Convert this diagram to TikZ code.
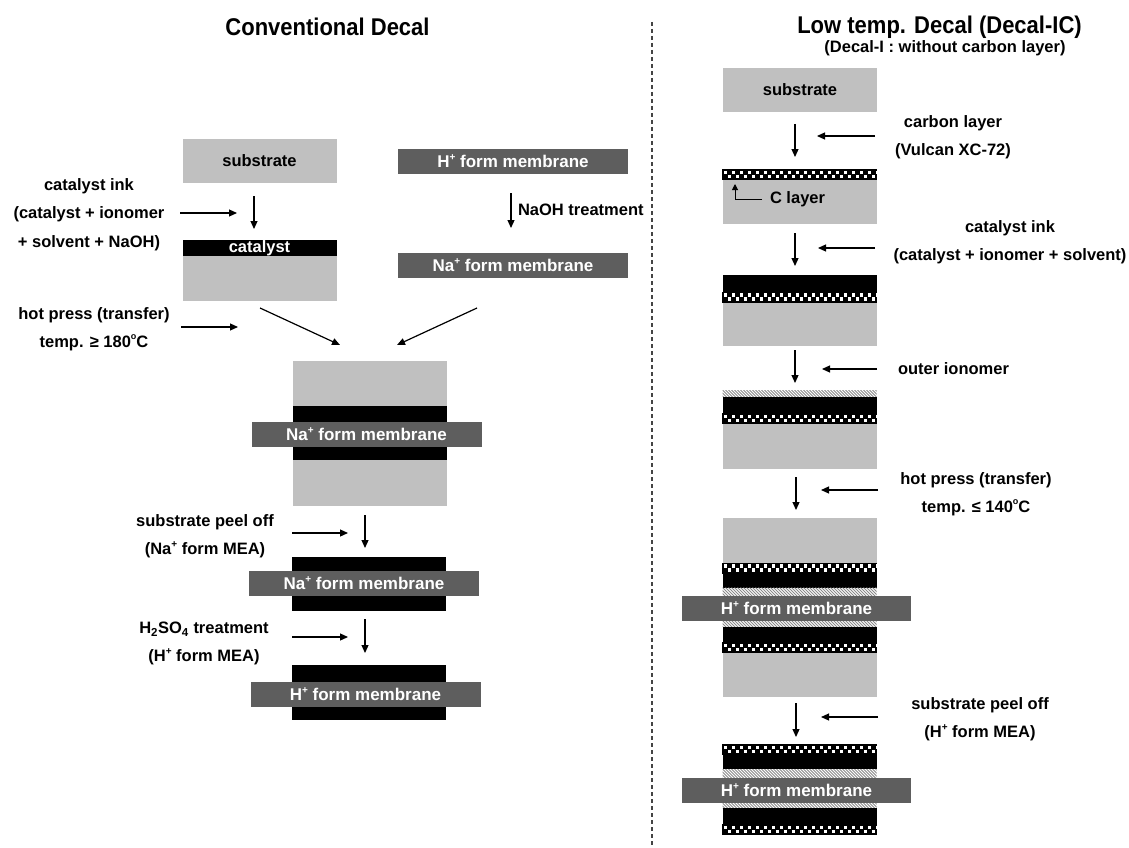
\documentclass[tikz,border=0pt]{standalone}
\usepackage{fontspec}
\setmainfont{Liberation Sans}
\usetikzlibrary{arrows.meta}
\definecolor{subgray}{HTML}{C0C0C0}
\definecolor{memgray}{HTML}{5E5E5E}
\definecolor{hatchgray}{HTML}{8A8A8A}
\definecolor{dashgray}{HTML}{444444}
\newcommand{\mysup}[1]{\raisebox{0.42em}{\fontsize{10}{10}\selectfont #1}}
\newcommand{\mydeg}{\raisebox{0.5em}{\fontsize{9}{9}\selectfont o}}
\begin{document}
\begin{tikzpicture}[x=1pt,y=-1pt,
  every node/.style={font=\bfseries\fontsize{16.5}{28}\selectfont, inner sep=0pt, outer sep=0pt},
  lbl/.style={align=center},
  ttl/.style={font=\bfseries\fontsize{22}{26}\selectfont},
  slab/.style={fill=subgray, minimum width=154, minimum height=#1},
  memb/.style={fill=memgray, text=white, minimum width=230, minimum height=25, font=\bfseries\fontsize{17}{20}\selectfont},
  blk/.style={fill=black, minimum width=154, minimum height=#1},
  chk/.style={fill=black, minimum width=155, minimum height=11, path picture={
     \foreach \i [evaluate=\i as \yy using {1.5+4*mod(\i,2)}] in {0,...,38}
       \fill[white] ([xshift=1.7pt+\i*4pt, yshift={-\yy*1pt}]path picture bounding box.north west) rectangle ++(3.4pt,-3.6pt);
  }},
  hat/.style={fill=white, minimum width=154, minimum height=#1, path picture={
     \foreach \i in {-5,...,56}
       \draw[hatchgray, line width=0.9pt] ([xshift=\i*3pt]path picture bounding box.north west) -- ++(12pt,-12pt);
  }},
  arr/.style={line width=1.2pt, -{Triangle[length=8pt,width=7pt]}},
  sarr/.style={line width=1pt, -{Triangle[length=6pt,width=6pt]}},
  dline/.style={dashgray, line width=1.2pt, dash pattern=on 4pt off 3pt},
]
\useasboundingbox (0,0) rectangle (1129,848);

% ---------------- titles ----------------
\node[ttl] (t1) at (327.5,27) {\scalebox{1}[1.1]{Conventional Decal}};
\node[ttl] (t2) at (939.5,27) {\scalebox{1}[1.1]{Low temp. Decal (Decal-IC)}};
\node (t3) at (945,48) {(Decal-I : without carbon layer)};

% ---------------- divider ----------------
\coordinate (d1) at (652,22);
\coordinate (d2) at (652,848);
\draw[dline] (d1) -- (d2);

% ================= LEFT: conventional decal =================
\node[slab=44] (s1) at (259.5,161) {substrate};
\node[blk=15, text=white] (c1) at (259.5,248) {catalyst};
\node[slab=45] (g1) at (259.5,278.5) {};

\node[memb] (hm1) at (513,161.5) {H\mysup{+} form membrane};
\node[memb] (nm1) at (513,265) {Na\mysup{+} form membrane};

% big stack
\node[slab=45] (bg1) at (369.5,383.5) {};
\node[blk=16] (bb1) at (369.5,414) {};
\node[blk=13] (bb2) at (369.5,453.5) {};
\node[memb] (bm1) at (366.5,434.5) {Na\mysup{+} form membrane};
\node[slab=46] (bg2) at (369.5,483) {};

% stack 2
\node[blk=14] (k1) at (369,564) {};
\node[blk=15] (k2) at (369,603.5) {};
\node[memb] (km) at (364,583.5) {Na\mysup{+} form membrane};

% stack 3
\node[blk=17] (q1) at (369,673.5) {};
\node[blk=14] (q2) at (369,713) {};
\node[memb] (qm) at (365.5,694) {H\mysup{+} form membrane};

% labels left
\node[lbl, font=\bfseries\fontsize{16.5}{28.5}\selectfont] (l1) at (89,214.5) {catalyst ink\\(catalyst + ionomer\\+ solvent + NaOH)};
\node[lbl] (l2) at (94,329) {hot press (transfer)\\temp. ≥ 180\mydeg C};
\node[anchor=west] (l3) at (518,210) {NaOH treatment};
\node[lbl] (l4) at (205,536) {substrate peel off\\(Na\mysup{+} form MEA)};
\node[lbl] (l5) at (204,643.5) {H\textsubscript{2}SO\textsubscript{4} treatment\\(H\mysup{+} form MEA)};

% arrows left
\coordinate (a1s) at (180,213); \coordinate (a1e) at (237,213);
\coordinate (a2s) at (254,196); \coordinate (a2e) at (254,229);
\coordinate (a3s) at (181,327); \coordinate (a3e) at (238,327);
\coordinate (a4s) at (260,308); \coordinate (a4e) at (340,345);
\coordinate (a5s) at (511,193); \coordinate (a5e) at (511,228);
\coordinate (a6s) at (477,308); \coordinate (a6e) at (397,345);
\coordinate (a7s) at (292,533); \coordinate (a7e) at (348,533);
\coordinate (a8s) at (365,515); \coordinate (a8e) at (365,548);
\coordinate (a9s) at (292,637); \coordinate (a9e) at (348,637);
\coordinate (a10s) at (365,619); \coordinate (a10e) at (365,653);
\foreach \n in {1,...,10} \draw[arr] (a\n s) -- (a\n e);

% ================= RIGHT: low temp decal =================
\node[slab=44] (s2) at (800,90) {substrate};

% R1
\node[chk] (r1c) at (799.5,174.5) {};
\node[slab=44] (r1g) at (799.5,202) {};
\node[anchor=west] (cl) at (770,199) {C layer};
\coordinate (e1) at (762,199); \coordinate (e2) at (735,199); \coordinate (e3) at (735,184);
\draw[sarr] (e1) -- (e2) -- (e3);

% R2
\node[blk=17] (r2b) at (799.5,283.5) {};
\node[chk] (r2c) at (799.5,297) {};
\node[slab=43] (r2g) at (799.5,324) {};

% R3
\node[hat=7] (r3h) at (799.5,393.5) {};
\node[blk=16] (r3b) at (799.5,405) {};
\node[chk] (r3c) at (799.5,418.5) {};
\node[slab=45] (r3g) at (799.5,446) {};

% R4
\node[slab=45] (r4g1) at (799.5,540) {};
\node[chk] (r4c1) at (799.5,568) {};
\node[blk=14] (r4b1) at (799.5,580.5) {};
\node[hat=9] (r4h1) at (799.5,592) {};
\node[hat=6] (r4h2) at (799.5,623.5) {};
\node[memb, minimum width=229] (r4m) at (796.5,608.5) {H\mysup{+} form membrane};
\node[blk=16] (r4b2) at (799.5,634.5) {};
\node[chk] (r4c2) at (799.5,647.5) {};
\node[slab=44] (r4g2) at (799.5,675) {};

% R5
\node[chk] (r5c1) at (799.5,749.5) {};
\node[blk=14] (r5b1) at (799.5,762) {};
\node[hat=9] (r5h1) at (799.5,773.5) {};
\node[hat=5] (r5h2) at (799.5,805.5) {};
\node[memb, minimum width=229] (r5m) at (796.5,790.5) {H\mysup{+} form membrane};
\node[blk=16] (r5b2) at (799.5,816) {};
\node[chk] (r5c2) at (799.5,829.5) {};

% labels right
\node[lbl] (l6) at (953,137.5) {carbon layer\\(Vulcan XC-72)};
\node[lbl] (l7) at (1010,242) {catalyst ink\\(catalyst + ionomer + solvent)};
\node[anchor=west] (l8) at (898,369) {outer ionomer};
\node[lbl] (l9) at (976,494) {hot press (transfer)\\temp. ≤ 140\mydeg C};
\node[lbl] (l10) at (980,719) {substrate peel off\\(H\mysup{+} form MEA)};

% arrows right
\coordinate (b1s) at (795,124); \coordinate (b1e) at (795,157);
\coordinate (b2s) at (875,136); \coordinate (b2e) at (817,136);
\coordinate (b3s) at (795,233); \coordinate (b3e) at (795,266);
\coordinate (b4s) at (875,248); \coordinate (b4e) at (818,248);
\coordinate (b5s) at (795,350); \coordinate (b5e) at (795,383);
\coordinate (b6s) at (877,369); \coordinate (b6e) at (822,369);
\coordinate (b7s) at (796,477); \coordinate (b7e) at (796,510);
\coordinate (b8s) at (878,490); \coordinate (b8e) at (821,490);
\coordinate (b9s) at (796,703); \coordinate (b9e) at (796,737);
\coordinate (b10s) at (878,717); \coordinate (b10e) at (821,717);
\foreach \n in {1,...,10} \draw[arr] (b\n s) -- (b\n e);
\end{tikzpicture}
\end{document}
